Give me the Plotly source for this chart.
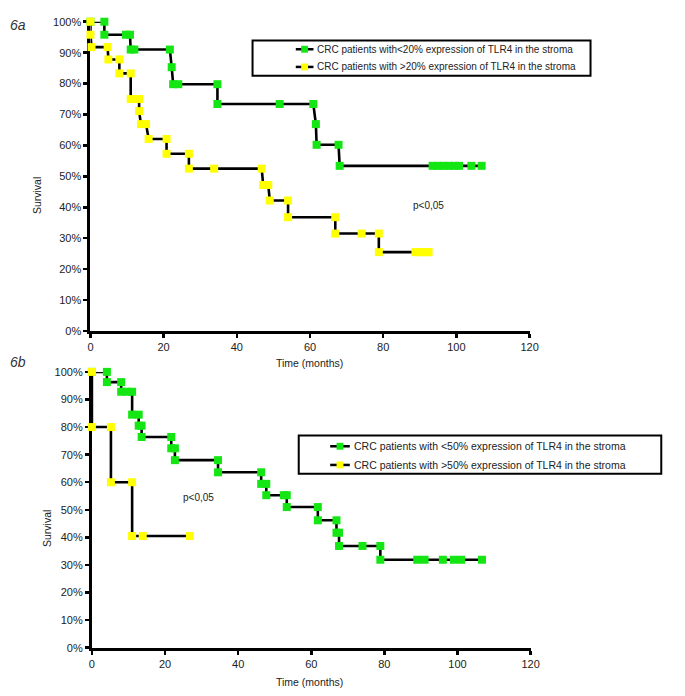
import plotly.graph_objects as go

# ---------------- data (step vertices) ----------------
# Panel 6a: <20% expression (green)
a_low_t = [0, 3.8, 3.8, 9.7, 10.8, 11, 12, 21.7, 22.2, 22.6, 24, 34.7, 34.7, 51.7, 60.9,
           61.6, 61.8, 67.8, 68.1, 93.5, 95, 96.5, 98, 99.5, 100.7, 104.1, 106.9]
a_low_s = [100, 100, 95.8, 95.8, 95.8, 91, 91, 91, 85.3, 79.8, 79.8, 79.8, 73.4, 73.4, 73.4,
           66.9, 60.2, 60.2, 53.4, 53.4, 53.4, 53.4, 53.4, 53.4, 53.4, 53.4, 53.4]
# Panel 6a: >20% expression (yellow)
a_high_t = [0, 0, 0.3, 4.7, 4.9, 7.9, 7.9, 11, 11, 12.3, 13.3, 13.3, 13.8, 15.2, 15.9, 20.8,
            20.8, 26.9, 26.9, 33.8, 46.8, 47.2, 48.6, 49, 54, 54, 66.9, 66.9, 74.1, 78.8,
            78.8, 88.8, 89.8, 90.8, 91.8, 92.4]
a_high_s = [100, 95.8, 91.8, 91.8, 87.8, 87.8, 83.3, 83.3, 75, 75, 75, 71.1, 66.9, 66.9, 62.1,
            62.1, 57.3, 57.3, 52.5, 52.5, 52.5, 47.2, 47.2, 42.2, 42.2, 36.8, 36.8, 31.5,
            31.5, 31.5, 25.5, 25.5, 25.5, 25.5, 25.5, 25.5]
# Panel 6b: <50% expression (green)
b_low_t = [0, 4.1, 4.1, 8, 8, 9.5, 11, 11, 12.8, 12.8, 13.6, 13.6, 21.7, 21.7, 22.7, 22.7,
           34.5, 34.5, 46.3, 46.3, 47.7, 47.7, 52.5, 53.3, 53.3, 61.8, 61.8, 66.9, 66.9,
           67.6, 67.6, 74, 78.9, 78.9, 89, 91, 96, 99, 101, 106.7]
b_low_s = [100, 100, 96.3, 96.3, 92.8, 92.8, 92.8, 84.5, 84.5, 80.5, 80.5, 76.4, 76.4, 72.3,
           72.3, 68, 68, 63.6, 63.6, 59.4, 59.4, 55.3, 55.3, 55.3, 51, 51, 46.2, 46.2, 41.7,
           41.7, 36.9, 36.9, 36.9, 31.9, 31.9, 31.9, 31.9, 31.9, 31.9, 31.9]
# Panel 6b: >50% expression (yellow)
b_high_t = [0, 0, 5.2, 5.2, 11, 11, 13.9, 26.8]
b_high_s = [100, 80, 80, 60, 60, 40.5, 40.5, 40.5]

x_ticks = [0, 20, 40, 60, 80, 100, 120]
y_ticks = [0, 10, 20, 30, 40, 50, 60, 70, 80, 90, 100]
y_tick_labels = [f"{v}%" for v in y_ticks]

legend_a = ["CRC patients with&lt;20% expression of TLR4 in the stroma",
            "CRC patients with &gt;20% expression of TLR4 in the stroma"]
legend_b = ["CRC patients with &lt;50% expression of TLR4 in the stroma",
            "CRC patients with &gt;50% expression of TLR4 in the stroma"]
panel_labels = ["6a", "6b"]
p_text = "p&lt;0,05"
x_title = "Time (months)"
y_title = "Survival"

GREEN = "#14e614"
YELLOW = "#ffff00"
FONT = "Liberation Sans, Arial, sans-serif"
TXT = "#222222"
W, H = 685, 696


def X(px):
    return px / W


def Y(py):
    return 1 - py / H


fig = go.Figure()

for t, s, col, xa, ya in [(a_low_t, a_low_s, GREEN, "x", "y"),
                          (a_high_t, a_high_s, YELLOW, "x", "y"),
                          (b_low_t, b_low_s, GREEN, "x2", "y2"),
                          (b_high_t, b_high_s, YELLOW, "x2", "y2")]:
    fig.add_trace(go.Scatter(x=t, y=s, mode="lines+markers", xaxis=xa, yaxis=ya,
                             line=dict(color="black", width=2.6),
                             marker=dict(symbol="square", size=8, color=col, line=dict(width=0)),
                             cliponaxis=False, showlegend=False, hoverinfo="skip"))

axis_common = dict(showline=True, linecolor="black", linewidth=3, ticks="outside", ticklen=4,
                   tickwidth=2.5, tickcolor="black", showgrid=False, zeroline=False,
                   tickfont=dict(family=FONT, size=11, color=TXT), layer="below traces")
inside_common = dict(showline=False, ticks="inside", ticklen=4, tickwidth=2.5,
                     tickcolor="black", showgrid=False, zeroline=False,
                     showticklabels=False, layer="below traces")

dom_ax = [X(89), X(536)]
dom_ay = [Y(330.7), Y(16)]
dom_bx = [X(90.5), X(537)]
dom_by = [Y(653), Y(372.3)]

fig.update_layout(
    width=W, height=H, margin=dict(l=0, r=0, t=0, b=0),
    paper_bgcolor="white", plot_bgcolor="white",
    xaxis=dict(domain=dom_ax, range=[0, 120], anchor="y", tickvals=x_ticks, **axis_common),
    yaxis=dict(domain=dom_ay, range=[0, 100], anchor="x", tickvals=y_ticks,
               ticktext=y_tick_labels, **axis_common),
    xaxis2=dict(domain=dom_bx, range=[0, 120], anchor="y2", tickvals=x_ticks, **axis_common),
    yaxis2=dict(domain=dom_by, range=[0, 100], anchor="x2", tickvals=y_ticks,
                ticktext=y_tick_labels, **axis_common),
    xaxis3=dict(overlaying="x", anchor="y", range=[0, 120], tickvals=x_ticks, **inside_common),
    yaxis3=dict(overlaying="y", anchor="x", range=[0, 100], tickvals=y_ticks, **inside_common),
    xaxis4=dict(overlaying="x2", anchor="y2", range=[0, 120], tickvals=x_ticks, **inside_common),
    yaxis4=dict(overlaying="y2", anchor="x2", range=[0, 100], tickvals=y_ticks, **inside_common),
)

ann = []
# panel labels
ann.append(dict(x=X(5), y=Y(19), text=f"<i>{panel_labels[0]}</i>", xanchor="left", yanchor="middle",
                font=dict(family=FONT, size=14, color="#333")))
ann.append(dict(x=X(5), y=Y(362), text=f"<i>{panel_labels[1]}</i>", xanchor="left", yanchor="middle",
                font=dict(family=FONT, size=14, color="#333")))
# axis titles
for yy in (363, 688):
    ann.append(dict(x=X(312), y=Y(yy), text=x_title, xanchor="center", yanchor="middle",
                    font=dict(family=FONT, size=10.5, color=TXT)))
for xx, yy in ((34, 193), (45, 532)):
    ann.append(dict(x=X(xx), y=Y(yy), text=y_title, textangle=-90, xanchor="center",
                    yanchor="middle", font=dict(family=FONT, size=10.5, color=TXT)))
# p values
for xx, yy in ((433, 203), (199, 500)):
    ann.append(dict(x=X(xx), y=Y(yy), text=p_text, xanchor="center", yanchor="middle",
                    font=dict(family=FONT, size=10, color=TXT)))

shapes = []
# legends
for (bx0, by0, bx1, by1, sx0, sx1, tx, rows, labels, fs) in [
        (254, 35, 598, 71, 298, 316, 318, (44, 62), legend_a, 10),
        (301, 437, 670, 476, 333, 353, 355, (448, 467), legend_b, 10.5)]:
    shapes.append(dict(type="rect", xref="paper", yref="paper", x0=X(bx0), x1=X(bx1),
                       y0=Y(by1), y1=Y(by0), line=dict(color="black", width=2),
                       fillcolor="white", layer="above"))
    for ry, col, lab in zip(rows, (GREEN, YELLOW), labels):
        shapes.append(dict(type="line", xref="paper", yref="paper", x0=X(sx0), x1=X(sx1),
                           y0=Y(ry), y1=Y(ry), line=dict(color="black", width=2.5), layer="above"))
        cx = (sx0 + sx1) / 2
        shapes.append(dict(type="rect", xref="paper", yref="paper", x0=X(cx - 3.5), x1=X(cx + 3.5),
                           y0=Y(ry + 3.5), y1=Y(ry - 3.5), fillcolor=col, line=dict(width=0),
                           layer="above"))
        ann.append(dict(x=X(tx), y=Y(ry), text=lab, xanchor="left", yanchor="middle",
                        font=dict(family=FONT, size=fs, color=TXT)))

for a in ann:
    a.update(xref="paper", yref="paper", showarrow=False)
fig.update_layout(annotations=ann, shapes=shapes)

fig.write_html("out.html", config={"displayModeBar": False, "staticPlot": True},
               post_script="document.body.style.margin='0px';document.body.style.overflow='hidden';")
